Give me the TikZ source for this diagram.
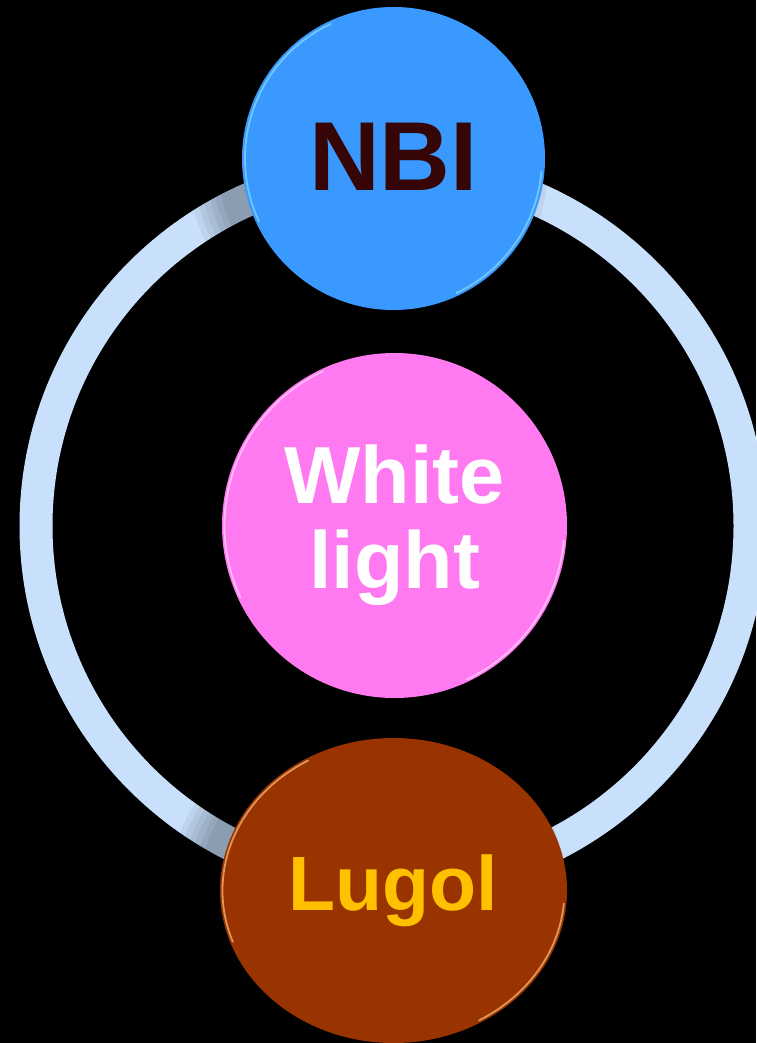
\documentclass[tikz,border=0pt]{standalone}
\usepackage{fontspec}
\setmainfont{Liberation Sans}
\usetikzlibrary{shapes.geometric}
\definecolor{ringblue}{RGB}{201,224,252}
\definecolor{nbiblue}{RGB}{58,153,255}
\definecolor{nbitext}{RGB}{54,6,6}
\definecolor{wlpink}{RGB}{255,121,240}
\definecolor{lugbrown}{RGB}{153,51,0}
\definecolor{lugtext}{RGB}{255,192,0}
\begin{document}
\begin{tikzpicture}[x=1pt,y=-1pt,
  bubble/.style={inner sep=0pt, outer sep=0pt, align=center, font=\bfseries},
  rim/.style={line width=1.8pt, line cap=round, opacity=0.7},
  shade/.style={fill=black, opacity=0.055}]
  % background
  \fill[black] (0,0) rectangle (756,1043);
  \useasboundingbox (0,0) rectangle (756,1043);
  % ring
  \coordinate (c) at (393,526);
  \draw[ringblue, line width=33pt] (c) circle (357pt);
  % soft shadows cast on the ring, to the left of the top and bottom bubbles
  \coordinate (nbis) at (368,164);
  \coordinate (lugs) at (368,888);
  \begin{scope}[even odd rule]
    \clip (c) circle (374pt) (c) circle (340pt);
    \foreach \r in {150,156,...,180} {
      \fill[shade] (nbis) circle (\r pt);
    }
    \foreach \r in {0,6,...,30} {
      \fill[shade] (lugs) ellipse ({168pt+\r pt} and {150pt+0.8*\r pt});
    }
  \end{scope}
  % nodes
  \node[bubble, circle, minimum size=303pt, fill=nbiblue, text=nbitext,
        font=\bfseries\fontsize{98}{98}\selectfont] (nbi) at (393.5,158.5) {\raisebox{3pt}{NBI}};
  \node[bubble, circle, minimum size=345pt, fill=wlpink, text=white,
        font=\bfseries\fontsize{81}{85}\selectfont] (wl) at (394.5,525.5) {White\\light};
  \node[bubble, ellipse, minimum width=347pt, minimum height=305pt, fill=lugbrown, text=lugtext,
        font=\bfseries\fontsize{77}{77}\selectfont] (lug) at (393.5,890.5) {\raisebox{4pt}{Lugol}};
  % glossy rims
  \draw[rim, white!55!cyan] (nbi.center) ++(115:148.5pt) arc[start angle=115, end angle=205, radius=148.5pt];
  \draw[rim, white!55!cyan] (nbi.center) ++(-5:148.5pt) arc[start angle=-5, end angle=-65, radius=148.5pt];
  \draw[rim, white!70!wlpink] (wl.center) ++(115:170pt) arc[start angle=115, end angle=205, radius=170pt];
  \draw[rim, white!70!wlpink] (wl.center) ++(-5:170pt) arc[start angle=-5, end angle=-65, radius=170pt];
  \draw[rim, white!50!orange] (lug.center) ++(120:171pt and 150pt) arc[start angle=120, end angle=200, x radius=171pt, y radius=150pt];
  \draw[rim, white!50!orange] (lug.center) ++(-5:171pt and 150pt) arc[start angle=-5, end angle=-60, x radius=171pt, y radius=150pt];
\end{tikzpicture}
\end{document}
